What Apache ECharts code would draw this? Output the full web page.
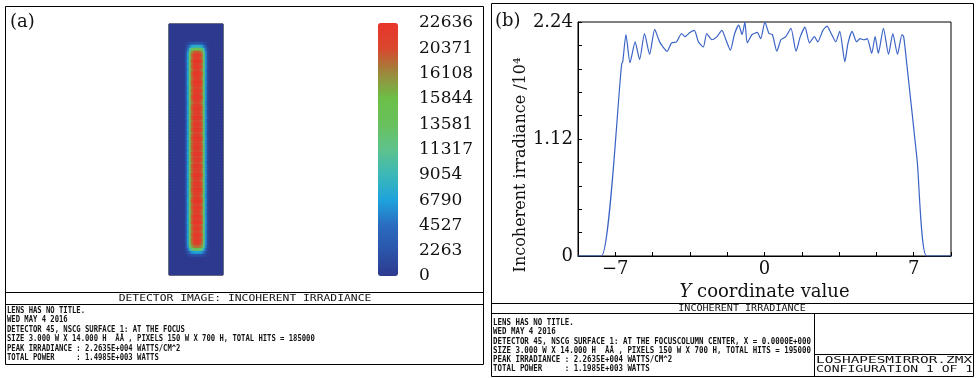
<!DOCTYPE html>
<html>
<head>
<meta charset="utf-8">
<script src="https://cdn.jsdelivr.net/npm/echarts@6/dist/echarts.min.js"></script>
<style>
  html, body { margin: 0; padding: 0; background: #fff; }
  #chart { width: 976px; height: 378px; }
</style>
</head>
<body>
<div id="chart"></div>
<script>
// (a) detector image: cross-section across the width and profile along the length (relative)
var peakIrradiance = 22636
var crossProfile = [0, 0, 0, 0, 0, 0, 0, 0, 0.08, 0.3, 0.62, 0.88, 0.97, 1, 1, 0.98, 0.9, 0.6, 0.28, 0.07, 0, 0, 0, 0, 0, 0, 0]
var lengthProfile = [
  0, 0, 0, 0, 0, 0, 0.1, 0.35, 0.65, 0.88,
  0.97, 0.93, 1, 0.95, 0.98, 0.92, 0.99, 0.96, 0.94, 1,
  0.97, 0.93, 0.98, 0.95, 1, 0.96, 0.91, 0.97, 0.99, 0.94,
  0.96, 1, 0.93, 0.98, 0.95, 0.99, 0.92, 0.97, 1, 0.94,
  0.96, 0.98, 0.93, 1, 0.95, 0.97, 0.92, 0.99, 0.96, 0.94,
  1, 0.97, 0.93, 0.98, 0.95, 0.99, 0.96, 0.92, 0.97, 1,
  0.94, 0.98, 0.95, 0.93, 0.99, 0.96, 1, 0.94, 0.97, 0.92,
  0.98, 0.95, 0.96, 0.93, 0.85, 0.6, 0.3, 0.08, 0, 0,
  0, 0, 0, 0
]
var colorbarLabels = ['0', '2263', '4527', '6790', '9054', '11317', '13581', '15844', '16108', '20371', '22636']

// (b) irradiance along Y (x 10^4)
var yCoord = [-8.75, -7.65, -6.70, -6.65, -6.50, -6.31, -6.07, -5.86, -5.63, -5.39,
  -5.15, -4.92, -4.57, -4.36, -4.13, -3.89, -3.73, -3.50, -3.29, -3.10,
  -2.87, -2.71, -2.47, -2.23, -2.00, -1.81, -1.60, -1.40, -1.21, -1.05,
  -0.92, -0.81, -0.58, -0.34, -0.18, 0.02, 0.21, 0.37, 0.58, 0.77,
  1.00, 1.24, 1.48, 1.68, 1.90, 2.11, 2.34, 2.50, 2.74, 2.93,
  3.13, 3.34, 3.53, 3.77, 3.92, 4.11, 4.32, 4.48, 4.67, 4.82,
  5.03, 5.19, 5.34, 5.58, 5.82, 6.02, 6.24, 6.45, 6.53, 6.69,
  7.16, 7.60, 8.75]
var irradiance = [0, 0, 1.84, 1.86, 2.12, 1.85, 2.05, 1.88, 2.13, 1.93,
  2.17, 2.05, 1.96, 2.04, 2.05, 2.13, 2.10, 2.14, 2.16, 2.05,
  2.00, 2.13, 2.07, 2.10, 2.16, 2.07, 1.97, 2.13, 2.21, 2.12,
  2.24, 2.04, 2.12, 2.14, 2.08, 2.24, 2.13, 2.12, 1.96, 2.07,
  2.10, 2.18, 1.96, 2.10, 2.19, 2.04, 2.10, 2.05, 2.16, 2.20,
  2.13, 2.05, 2.15, 1.86, 2.04, 2.15, 2.05, 2.08, 2.07, 2.08,
  1.94, 2.10, 1.94, 2.18, 1.93, 2.13, 1.93, 2.12, 2.10, 1.81,
  0.92, 0, 0]
var xLabelTicks = [-7, 0, 7]
var yLabelTicks = ['0', '1.12', '2.24']

var leftInfo = [
  'LENS HAS NO TITLE.',
  'WED MAY 4 2016',
  'DETECTOR 45, NSCG SURFACE 1: AT THE FOCUS',
  'SIZE 3.000 W X 14.000 H  ÅÅ , PIXELS 150 W X 700 H, TOTAL HITS = 185000',
  'PEAK IRRADIANCE : 2.2635E+004 WATTS/CM^2',
  'TOTAL POWER     : 1.4985E+003 WATTS'
]
var rightInfo = [
  'LENS HAS NO TITLE.',
  'WED MAY 4 2016',
  'DETECTOR 45, NSCG SURFACE 1: AT THE FOCUSCOLUMN CENTER, X = 0.0000E+000',
  'SIZE 3.000 W X 14.000 H  ÅÅ , PIXELS 150 W X 700 H, TOTAL HITS = 195000',
  'PEAK IRRADIANCE : 2.2635E+004 WATTS/CM^2',
  'TOTAL POWER     : 1.1985E+003 WATTS'
]

var serif = 'DejaVu Serif'
var mono = 'DejaVu Sans Mono'

var heatData = []
crossProfile.forEach(function (c, i) {
  lengthProfile.forEach(function (r, j) {
    heatData.push([i, j, Math.round(peakIrradiance * c * r)])
  })
})
var colIdx = crossProfile.map(function (v, i) { return i })
var rowIdx = lengthProfile.map(function (v, i) { return i })

var myChart = echarts.init(document.getElementById('chart'))

function line(x1, y1, x2, y2) {
  return { type: 'line', shape: { x1: x1, y1: y1, x2: x2, y2: y2 }, style: { stroke: '#000', lineWidth: 1 } }
}
function rect(x, y, w, h) {
  return { type: 'rect', shape: { x: x, y: y, width: w, height: h }, style: { fill: null, stroke: '#000', lineWidth: 1 } }
}
function label(x, y, text, opt) {
  return {
    type: 'text', x: x, y: y, scaleX: opt.scaleX || 1,
    style: {
      text: text, fill: '#111', font: opt.font,
      align: opt.align || 'left', verticalAlign: opt.vAlign || 'middle',
      lineHeight: opt.lineHeight
    }
  }
}

var option = {
  animation: false,
  backgroundColor: '#fff',
  grid: [
    { left: 169, top: 24, width: 54, height: 251, show: true, backgroundColor: '#2b3990', borderColor: '#000', borderWidth: 1 },
    { left: 578, top: 22, width: 373, height: 234, show: true, borderColor: '#000', borderWidth: 1 },
    { left: 378, top: 23, width: 20, height: 253 }
  ],
  xAxis: [
    { gridIndex: 0, type: 'category', data: colIdx, show: false },
    {
      gridIndex: 1, type: 'value', min: -8.75, max: 8.75, interval: 1.75,
      name: '{i|Y} coordinate value', nameLocation: 'middle', nameGap: 24,
      nameTextStyle: {
        color: '#111', fontFamily: serif, fontSize: 18,
        rich: { i: { fontStyle: 'italic', fontFamily: serif, fontSize: 18, color: '#111' } }
      },
      axisLine: { onZero: false, lineStyle: { color: '#000' } },
      axisTick: { inside: true, length: 4, lineStyle: { color: '#000' } },
      splitLine: { show: false },
      axisLabel: {
        color: '#111', fontFamily: serif, fontSize: 18, margin: 4,
        formatter: function (v) {
          var hit = xLabelTicks.filter(function (t) { return Math.abs(t - v) < 1e-6 })
          if (!hit.length) return ''
          return hit[0] < 0 ? '\u2212' + Math.abs(hit[0]) : String(hit[0])
        }
      }
    },
    { gridIndex: 2, type: 'value', show: false }
  ],
  yAxis: [
    { gridIndex: 0, type: 'category', data: rowIdx, inverse: true, show: false },
    {
      gridIndex: 1, type: 'value', min: 0, max: 2.24, interval: 0.224,
      name: 'Incoherent irradiance /10\u2074', nameLocation: 'middle', nameRotate: 90, nameGap: 46,
      nameTextStyle: { color: '#111', fontFamily: serif, fontSize: 16, padding: [0, 52, 0, 0] },
      axisLine: { onZero: false, lineStyle: { color: '#000' } },
      axisTick: { inside: true, length: 4, lineStyle: { color: '#000' } },
      splitLine: { show: false },
      axisLabel: {
        color: '#111', fontFamily: serif, fontSize: 18, margin: 5, showMaxLabel: true, showMinLabel: true,
        formatter: function (v) {
          var s = v === 0 ? '0' : v.toFixed(2)
          return yLabelTicks.indexOf(s) >= 0 ? s : ''
        }
      }
    },
    {
      gridIndex: 2, type: 'category', data: colorbarLabels, boundaryGap: false, position: 'right',
      axisLine: { show: false }, axisTick: { show: false },
      axisLabel: { interval: 0, margin: 21, color: '#111', fontFamily: serif, fontSize: 17 }
    }
  ],
  visualMap: {
    type: 'continuous', seriesIndex: 0, min: 0, max: peakIrradiance,
    calculable: false, hoverLink: false,
    left: 378, top: 23, itemWidth: 20, itemHeight: 253, padding: 0,
    inRange: {
      color: ['#2d3a8e', '#2a55aa', '#2a6cc0', '#1ea3dc', '#3cb8b8', '#5ec28c',
        '#68c15c', '#6cbf48', '#9a8a3c', '#d9472e', '#e8352a']
    }
  },
  series: [
    {
      type: 'heatmap', xAxisIndex: 0, yAxisIndex: 0, data: heatData,
      progressive: 0, emphasis: { disabled: true }
    },
    {
      type: 'line', xAxisIndex: 1, yAxisIndex: 1,
      data: yCoord.map(function (x, i) { return [x, irradiance[i]] }),
      showSymbol: false, smooth: 0.2, clip: true,
      lineStyle: { color: '#3b63c6', width: 1.2 }
    },
    { type: 'line', xAxisIndex: 2, yAxisIndex: 2, data: [] }
  ],
  graphic: [
    // panel (a) frame and info box
    rect(5.5, 6.5, 478, 358),
    line(5, 292.5, 484, 292.5),
    line(5, 304.5, 484, 304.5),
    label(10, 22, '(a)', { font: '18px ' + serif }),
    label(245, 298.5, 'DETECTOR IMAGE: INCOHERENT IRRADIANCE', { font: '9px ' + mono, align: 'center', scaleX: 1.26 }),
    label(7, 306, leftInfo.join('\n'), { font: 'bold 8px ' + mono, vAlign: 'top', lineHeight: 9.5, scaleX: 0.9 }),
    // panel (b) frame and info box
    rect(491.5, 3.5, 482, 373),
    line(491, 303.5, 974, 303.5),
    line(491, 313.5, 974, 313.5),
    line(814.5, 313, 814.5, 377),
    line(814, 354.5, 974, 354.5),
    label(495, 21, '(b)', { font: '18px ' + serif }),
    label(742, 308.5, 'INCOHERENT IRRADIANCE', { font: '9px ' + mono, align: 'center', scaleX: 1.12 }),
    label(493, 318.5, rightInfo.join('\n'), { font: 'bold 8px ' + mono, vAlign: 'top', lineHeight: 9.2, scaleX: 0.93 }),
    label(816, 360.5, 'LOSHAPESMIRROR.ZMX', { font: '9px ' + mono, scaleX: 1.6 }),
    label(816, 369.5, 'CONFIGURATION 1 OF 1', { font: '9px ' + mono, scaleX: 1.45 })
  ]
}

myChart.setOption(option)
window.onresize = function () {
  myChart.resize()
}
</script>
</body>
</html>
